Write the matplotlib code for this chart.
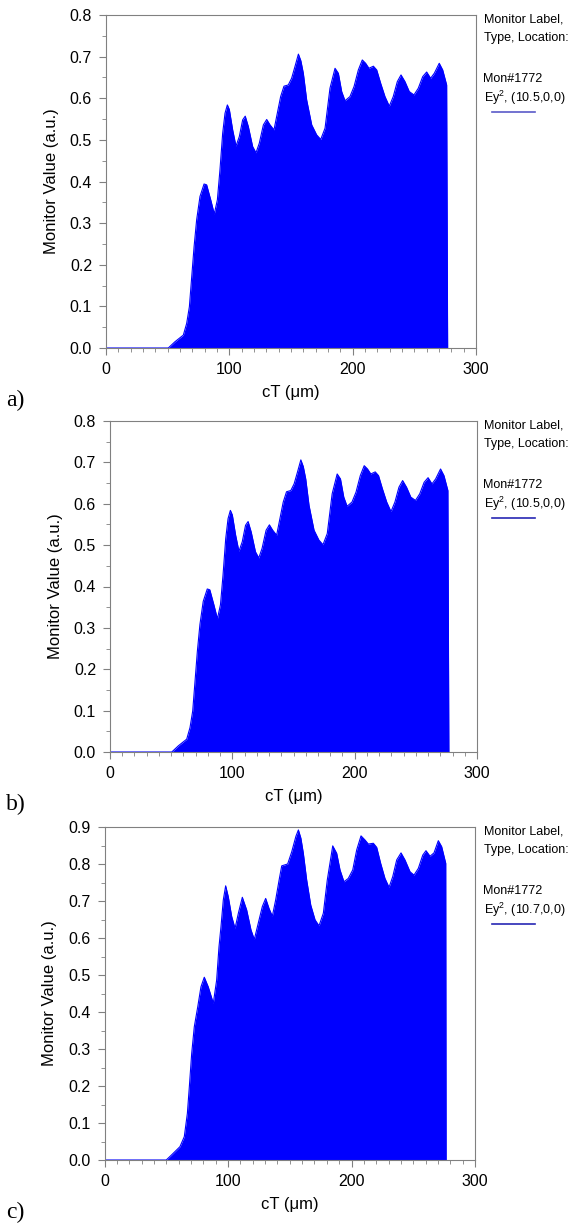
import matplotlib
matplotlib.use("Agg")
import matplotlib.pyplot as plt
from matplotlib.ticker import MultipleLocator

plt.rcParams['font.family'] = ['Liberation Sans', 'DejaVu Sans']
plt.rcParams['mathtext.fontset'] = 'custom'
plt.rcParams['mathtext.rm'] = 'Liberation Sans'

# envelope of the Ey^2 monitor signal, panels a) and b) (same run)
ct_ab = [0, 50.5, 55.9, 62.7, 65.4, 67.6, 69.5, 71.4, 73.5, 76.2, 79.5, 81.6, 84.9,
         87.8, 90.3, 92.4, 94.6, 96.5, 98.4, 100.0, 102.7, 105.4, 108.1, 110.8, 112.9,
         115.4, 118.9, 121.6, 124.3, 127.6, 130.3, 133.0, 136.2, 138.9, 141.6, 144.3,
         147.8, 150.5, 153.2, 156.0, 158.0, 160.0, 162.7, 166.8, 170.8, 174.1, 177.6,
         181.6, 185.7, 188.4, 191.1, 193.8, 197.8, 201.1, 204.6, 207.8, 210.5, 213.2,
         216.8, 219.5, 222.7, 226.2, 229.7, 232.9, 236.2, 239.2, 242.4, 245.9, 249.7,
         253.2, 256.8, 260.0, 263.2, 266.2, 270.2, 273.0, 276.2, 277.0]
val_ab = [0, 0, 0.015, 0.031, 0.059, 0.099, 0.171, 0.243, 0.308, 0.364, 0.394, 0.392,
          0.356, 0.322, 0.356, 0.428, 0.516, 0.564, 0.584, 0.573, 0.524, 0.485, 0.508,
          0.548, 0.557, 0.532, 0.484, 0.469, 0.492, 0.536, 0.549, 0.536, 0.524, 0.564,
          0.604, 0.629, 0.632, 0.648, 0.676, 0.706, 0.690, 0.660, 0.596, 0.536, 0.512,
          0.501, 0.528, 0.624, 0.672, 0.660, 0.616, 0.594, 0.604, 0.628, 0.668, 0.692,
          0.684, 0.672, 0.677, 0.668, 0.636, 0.604, 0.581, 0.604, 0.640, 0.656, 0.640,
          0.616, 0.608, 0.624, 0.652, 0.663, 0.648, 0.660, 0.684, 0.668, 0.632, 0.0]

# panel c)
ct_c = [0, 50.0, 54.4, 61.1, 64.6, 67.1, 68.7, 70.6, 72.7, 75.5, 78.1, 80.8, 84.0,
        88.1, 90.8, 92.7, 94.3, 96.2, 98.1, 100.2, 103.0, 105.7, 108.4, 111.6, 115.1,
        118.6, 121.3, 124.5, 127.8, 130.5, 133.2, 135.9, 138.6, 141.4, 143.5, 148.3,
        151.6, 155.0, 157.0, 159.0, 161.0, 163.7, 167.0, 170.5, 173.7, 177.2, 180.4,
        184.8, 188.0, 190.7, 193.9, 197.4, 201.0, 204.2, 207.7, 210.9, 213.6, 217.7,
        220.4, 223.6, 227.1, 230.4, 233.4, 236.6, 240.1, 243.3, 247.4, 250.6, 254.1,
        257.7, 260.3, 263.6, 266.8, 270.3, 273.0, 276.3, 276.6]
val_c = [0, 0, 0.014, 0.036, 0.063, 0.126, 0.198, 0.288, 0.360, 0.414, 0.468, 0.494,
         0.468, 0.424, 0.486, 0.576, 0.630, 0.703, 0.741, 0.712, 0.658, 0.626, 0.667,
         0.710, 0.676, 0.622, 0.596, 0.640, 0.685, 0.707, 0.680, 0.659, 0.703, 0.757,
         0.795, 0.800, 0.833, 0.875, 0.892, 0.870, 0.829, 0.757, 0.689, 0.649, 0.633,
         0.667, 0.757, 0.849, 0.829, 0.784, 0.752, 0.761, 0.784, 0.838, 0.876, 0.865,
         0.854, 0.856, 0.845, 0.802, 0.761, 0.737, 0.766, 0.811, 0.830, 0.811, 0.779,
         0.770, 0.788, 0.824, 0.836, 0.821, 0.830, 0.863, 0.847, 0.802, 0.0]

panel_tags = ['a)', 'b)', 'c)']
locations = ['(10.5,0,0)', '(10.5,0,0)', '(10.7,0,0)']
y_tops = [0.8, 0.8, 0.9]
legend_colors = ['#5a5ac8', '#2828b4', '#2828b4']

W, H = 571, 1225
fig = plt.figure(figsize=(W / 100, H / 100), dpi=100)

# pixel boxes: left, right, top, bottom
boxes = [(106, 476, 15, 348), (110, 477, 421, 752), (104.5, 475, 827, 1160)]
series = [(ct_ab, val_ab), (ct_ab, val_ab), (ct_c, val_c)]

grey = '#808080'
for i in range(3):
    l, r, t, b = boxes[i]
    ax = fig.add_axes([l / W, 1 - b / H, (r - l) / W, (b - t) / H])
    x, y = series[i]
    ax.fill_between(x, 0, y, color='#0000ff', lw=0)
    ax.plot(x, y, color='#0000ff', lw=0.8)
    ax.set_xlim(0, 300)
    ax.set_ylim(0, y_tops[i])
    ax.xaxis.set_major_locator(MultipleLocator(100))
    ax.xaxis.set_minor_locator(MultipleLocator(10))
    ax.yaxis.set_major_locator(MultipleLocator(0.1))
    ax.yaxis.set_minor_locator(MultipleLocator(0.05))
    ax.yaxis.set_major_formatter(plt.FormatStrFormatter('%.1f'))
    for s in ax.spines.values():
        s.set_color(grey)
    ax.tick_params(which='major', length=5, color=grey, labelsize=11.5, pad=5)
    ax.tick_params(which='minor', length=3, color=grey)
    ax.set_xlabel('cT (\u03bcm)', fontsize=12, labelpad=6)
    ax.set_ylabel('Monitor Value (a.u.)', fontsize=12, labelpad=8)

    # legend block to the right
    fig.text(483.5 / W, 1 - (t + 5) / H, 'Monitor Label,', fontsize=9, va='center')
    fig.text(483.5 / W, 1 - (t + 23) / H, 'Type, Location:', fontsize=9, va='center')
    fig.text(483.5 / W, 1 - (t + 64) / H, 'Mon#1772', fontsize=9, va='center')
    fig.text(483.5 / W, 1 - (t + 83) / H, 'Ey$^{\\mathrm{2}}$, ' + locations[i],
             fontsize=9, va='center')
    fig.add_artist(plt.Line2D([492 / W, 535 / W], [1 - (t + 97) / H] * 2,
                              color=legend_colors[i], lw=1.2))

    fig.text(6 / W, 1 - (b + 52) / H, panel_tags[i], fontsize=17,
             family='Liberation Serif', va='center')

fig.savefig('out.png', dpi=100)
